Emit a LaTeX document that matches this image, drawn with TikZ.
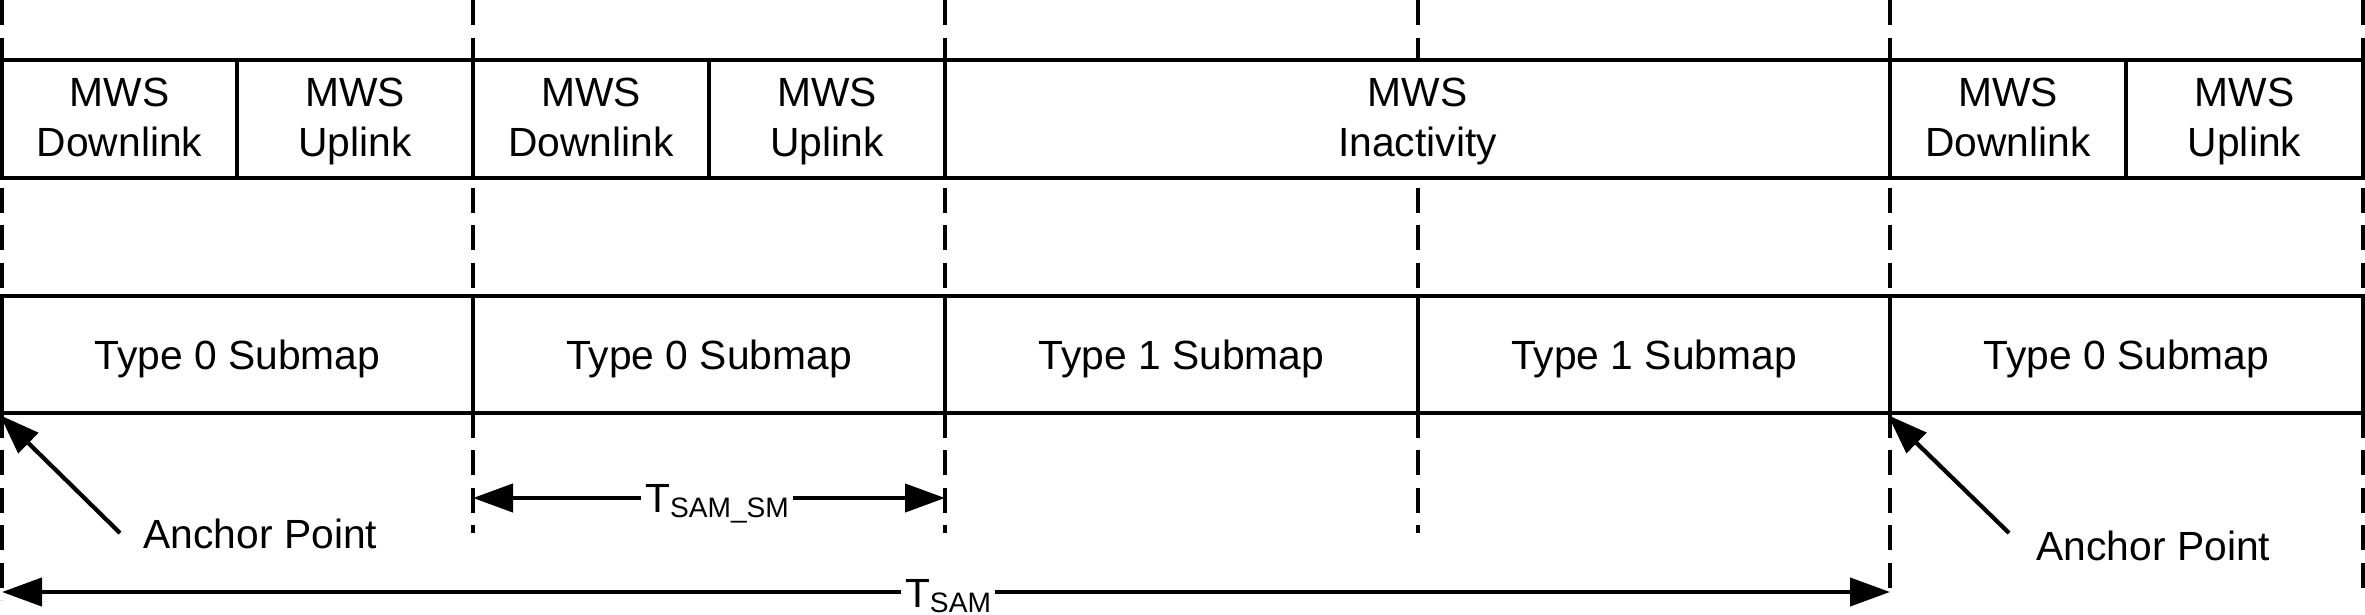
\documentclass[tikz,border=0pt]{standalone}
\usepackage{fontspec}
\setmainfont{Liberation Sans}
\usetikzlibrary{arrows.meta}
\newcommand\lbl{\fontsize{11.6}{14.2}\selectfont}
\newcommand\Tsub[1]{T\raisebox{-1.7pt}{\fontsize{8}{8}\selectfont #1}}
\newcommand\toprule{\rule{0pt}{10.2pt}}
\newcommand\botrule{\rule[-2.85pt]{0pt}{2.85pt}}
\newcommand\two[2]{\toprule#1\\#2\botrule}
\begin{document}
\begin{tikzpicture}[x=0.1mm,y=-0.1mm,
  cell/.style={draw, line width=1.2pt, fill=white, inner sep=0pt, align=center, font=\lbl, minimum height=11.8mm},
  subcell/.style={cell, minimum height=11.7mm, text height=8.3pt, text depth=0pt},
  guide/.style={line width=1.1pt, dash pattern=on 2.5mm off 1.25mm},
  arr/.style={line width=1.2pt, -{Triangle[length=4mm,width=2.8mm]}},
  darr/.style={line width=1.2pt, {Triangle[length=4mm,width=2.8mm]}-{Triangle[length=4mm,width=2.8mm]}},
  tlabel/.style={fill=white, inner xsep=0.4mm, inner ysep=0.6mm, font=\lbl, anchor=base},
  alabel/.style={inner sep=0pt, font=\lbl, anchor=base west},
]
\useasboundingbox (0,0) rectangle (2365,614);

% guide lines
\coordinate (g1t) at (2,0);    \coordinate (g1b) at (2,600);
\coordinate (g2t) at (473,0);  \coordinate (g2b) at (473,533);
\coordinate (g3t) at (945,0);  \coordinate (g3b) at (945,533);
\coordinate (g4t) at (1418,0); \coordinate (g4b) at (1418,533);
\coordinate (g5t) at (1890,0); \coordinate (g5b) at (1890,593);
\coordinate (g6t) at (2363,0); \coordinate (g6b) at (2363,588);
\foreach \i in {1,...,6} { \draw[guide] (g\i t) -- (g\i b); }

% MWS row
\node[cell, minimum width=23.5mm] (dl1) at (119.5,119) {\two{MWS}{Downlink}};
\node[cell, minimum width=23.6mm] (ul1) at (355,119) {\two{MWS}{Uplink}};
\node[cell, minimum width=23.6mm] (dl2) at (591,119) {\two{MWS}{Downlink}};
\node[cell, minimum width=23.6mm] (ul2) at (827,119) {\two{MWS}{Uplink}};
\node[cell, minimum width=94.5mm] (ina) at (1417.5,119) {\two{MWS}{Inactivity}};
\node[cell, minimum width=23.6mm] (dl3) at (2008,119) {\two{MWS}{Downlink}};
\node[cell, minimum width=23.7mm] (ul3) at (2244.5,119) {\two{MWS}{Uplink}};

% submap row
\node[subcell, minimum width=47.1mm] (s1) at (237.5,354.5) {Type 0 Submap};
\node[subcell, minimum width=47.2mm] (s2) at (709,354.5) {Type 0 Submap};
\node[subcell, minimum width=47.3mm] (s3) at (1181.5,354.5) {Type 1 Submap};
\node[subcell, minimum width=47.2mm] (s4) at (1654,354.5) {Type 1 Submap};
\node[subcell, minimum width=47.3mm] (s5) at (2126.5,354.5) {Type 0 Submap};

% anchor points
\node[alabel] (anc1) at (143,548) {Anchor Point};
\node[alabel] (anc2) at (2036,560) {Anchor Point};
\coordinate (t1) at (120,533);
\coordinate (t2) at (2009,533);
\draw[arr] (t1) -- (s1.south west);
\draw[arr] (t2) -- (s5.south west);

% dimension arrows
\coordinate (sml) at (473,498); \coordinate (smr) at (945,498);
\coordinate (saml) at (2,592);  \coordinate (samr) at (1890,592);
\draw[darr] (sml) -- (smr);
\draw[darr] (saml) -- (samr);
\node[tlabel] (tsamsm) at (717,512) {\Tsub{SAM\_SM}};
\node[tlabel] (tsam) at (948,607) {\Tsub{SAM}};
\end{tikzpicture}
\end{document}
